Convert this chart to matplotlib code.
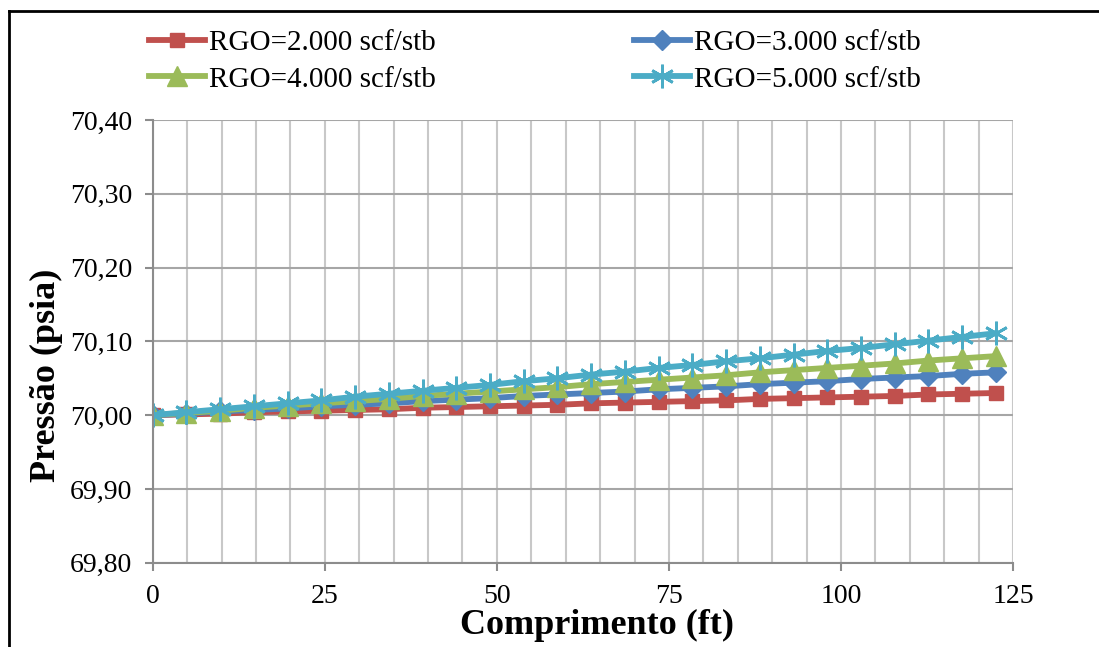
import matplotlib
matplotlib.use("Agg")
import matplotlib.pyplot as plt
from matplotlib.lines import Line2D
from matplotlib.ticker import MultipleLocator, FuncFormatter

plt.rcParams["font.family"] = ["Liberation Serif", "DejaVu Serif"]

# comprimento (ft)
comp = [0.0, 4.9, 9.8, 14.7, 19.6, 24.5, 29.4, 34.3, 39.2, 44.1, 49.0, 53.9, 58.8,
        63.7, 68.6, 73.5, 78.4, 83.3, 88.2, 93.1, 98.0, 102.9, 107.8, 112.7, 117.6, 122.5]

p_2000 = [70.000, 70.001, 70.002, 70.004, 70.005, 70.006, 70.007, 70.008, 70.010,
          70.011, 70.012, 70.013, 70.014, 70.016, 70.017, 70.018, 70.019, 70.020,
          70.022, 70.023, 70.024, 70.025, 70.026, 70.028, 70.029, 70.030]
p_3000 = [70.000, 70.002, 70.005, 70.007, 70.009, 70.012, 70.014, 70.016, 70.019,
          70.021, 70.023, 70.026, 70.028, 70.030, 70.032, 70.035, 70.037, 70.039,
          70.042, 70.044, 70.046, 70.049, 70.051, 70.053, 70.056, 70.058]
p_4000 = [70.000, 70.003, 70.006, 70.010, 70.013, 70.016, 70.019, 70.022, 70.026,
          70.029, 70.032, 70.035, 70.038, 70.042, 70.045, 70.048, 70.051, 70.054,
          70.058, 70.061, 70.064, 70.067, 70.070, 70.074, 70.077, 70.080]
p_5000 = [70.000, 70.004, 70.008, 70.012, 70.016, 70.020, 70.025, 70.029, 70.033,
          70.037, 70.041, 70.046, 70.050, 70.055, 70.059, 70.064, 70.068, 70.073,
          70.077, 70.082, 70.087, 70.091, 70.096, 70.101, 70.106, 70.111]

labels = ["RGO=2.000 scf/stb", "RGO=3.000 scf/stb", "RGO=4.000 scf/stb", "RGO=5.000 scf/stb"]

fig = plt.figure(figsize=(10.99, 6.47), dpi=100)
ax = fig.add_axes([0.139, 0.1303, 0.7828, 0.6842])

lw = 4.2
l1, = ax.plot(comp, p_2000, color="#C0504D", lw=lw, marker="s", ms=10.5, label=labels[0])
l2, = ax.plot(comp, p_3000, color="#4F81BD", lw=lw, marker="D", ms=10.5, label=labels[1])
l3, = ax.plot(comp, p_4000, color="#9BBB59", lw=lw, marker="^", ms=14, label=labels[2])
l4, = ax.plot(comp, p_5000, color="#4BACC6", lw=lw, marker=(6, 2, 0), ms=17, mew=2,
              label=labels[3])

ax.set_xlim(0, 125)
ax.set_ylim(69.8, 70.4)
ax.xaxis.set_major_locator(MultipleLocator(25))
ax.xaxis.set_minor_locator(MultipleLocator(5))
ax.yaxis.set_major_locator(MultipleLocator(0.1))
ax.yaxis.set_major_formatter(FuncFormatter(lambda v, p: f"{v:.2f}".replace(".", ",")))

ax.grid(which="major", axis="y", color="#A6A6A6", lw=1.5)
ax.grid(which="minor", axis="x", color="#C8C8C8", lw=1.5)
ax.grid(which="major", axis="x", color="#C8C8C8", lw=1.5)
ax.set_axisbelow(True)
for s in ["top", "right"]:
    ax.spines[s].set_visible(False)
for s in ["left", "bottom"]:
    ax.spines[s].set_color("#8C8C8C")
    ax.spines[s].set_linewidth(1.5)
ax.tick_params(which="major", direction="out", length=6, width=1.5, color="#8C8C8C",
               labelsize=20, pad=9)
ax.tick_params(which="minor", length=0)

fig.text(597 / 1099, 1 - 609 / 647, "Comprimento (ft)", fontsize=26, fontweight="bold",
         ha="center", va="top")
fig.text(46 / 1099, 1 - 375 / 647, "Pressão (psia)", fontsize=26, fontweight="bold",
         ha="center", va="center", rotation=90)

fig.legend([l1, l3, l2, l4], [labels[0], labels[2], labels[1], labels[3]],
           ncol=2, loc="center", bbox_to_anchor=(535 / 1099, 1 - 61 / 647),
           frameon=False, fontsize=21, handlelength=1.9, handletextpad=0.15,
           columnspacing=6.8, labelspacing=0.35, borderpad=0)

# moldura da area do grafico
fig.add_artist(Line2D([8.5 / 1099, 8.5 / 1099], [0, 1 - 11 / 647], color="black", lw=2,
                      transform=fig.transFigure))
fig.add_artist(Line2D([8.5 / 1099, 1], [1 - 11 / 647, 1 - 11 / 647], color="black", lw=2,
                      transform=fig.transFigure))

fig.savefig("out.png", dpi=100)
